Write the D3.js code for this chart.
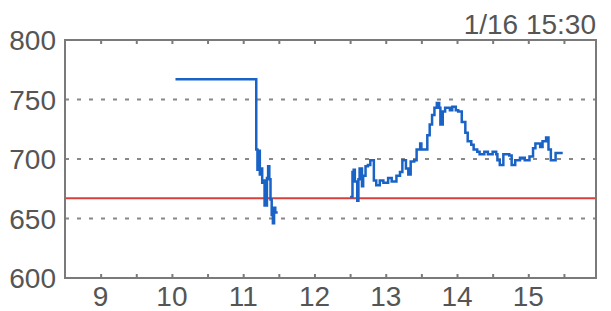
<!DOCTYPE html>
<html>
<head>
<meta charset="utf-8">
<script src="https://cdn.jsdelivr.net/npm/d3@7"></script>
<style>
  html, body { margin: 0; padding: 0; background: #fff; }
  svg { display: block; }
</style>
</head>
<body>
<svg id="chart"></svg>
<script>
// morning session
const amTimes = ["10:03", "11:10", "11:11", "11:12", "11:13", "11:14", "11:15", "11:16", "11:17", "11:18",
  "11:20", "11:21", "11:22", "11:23", "11:24", "11:25", "11:26", "11:27", "11:28"];
const amValues = [767, 767, 708, 691, 707, 687, 692, 680, 682, 661,
  684, 694, 683, 666, 653, 646, 659, 655, 656];

// afternoon session
const pmTimes = ["12:30", "12:32", "12:33", "12:34", "12:36", "12:37", "12:38", "12:40", "12:41", "12:43",
  "12:45", "12:47", "12:48", "12:50", "12:52", "12:55", "12:58", "13:02", "13:05", "13:09",
  "13:12", "13:14", "13:17", "13:19", "13:21", "13:24", "13:26", "13:29", "13:30", "13:33",
  "13:35", "13:37", "13:39", "13:41", "13:43", "13:45", "13:46", "13:48", "13:50", "13:54",
  "13:56", "13:59", "14:01", "14:04", "14:07", "14:09", "14:12", "14:14", "14:17", "14:19",
  "14:23", "14:26", "14:30", "14:33", "14:34", "14:36", "14:39", "14:44", "14:46", "14:49",
  "14:53", "14:57", "15:01", "15:04", "15:06", "15:10", "15:12", "15:15", "15:17", "15:19",
  "15:21", "15:23", "15:26", "15:29"];
const pmValues = [668, 689, 691, 681, 665, 683, 692, 677, 686, 694,
  695, 699, 699, 682, 678, 682, 680, 684, 681, 686,
  689, 699, 692, 687, 698, 699, 708, 713, 708, 708,
  720, 729, 737, 743, 747, 743, 729, 740, 743, 741,
  744, 741, 740, 731, 722, 715, 712, 708, 706, 704,
  706, 704, 706, 704, 699, 695, 704, 703, 695, 699,
  701, 699, 702, 709, 713, 710, 715, 718, 708, 699,
  699, 705, 705, 705];

const refLevel = 667;
const yTicks = [600, 650, 700, 750, 800];
const xLabels = [9, 10, 11, 12, 13, 14, 15];
const xMinor = [9, 9.5, 10, 10.5, 11, 11.5, 12, 12.5, 13, 13.5, 14, 14.5, 15, 15.5];
const title = "1/16 15:30";

const width = 611;
const height = 311;
const margin = { top: 40, right: 15, bottom: 33, left: 65 };

const svg = d3.select("#chart")
  .attr("width", width)
  .attr("height", height);

const toHour = (s) => {
  const [h, m] = s.split(":").map(Number);
  return h + m / 60;
};

const x = d3.scaleLinear()
  .domain([8.5, 15.95])
  .range([margin.left, width - margin.right]);

const y = d3.scaleLinear()
  .domain([600, 800])
  .range([height - margin.bottom, margin.top]);

const font = "'Liberation Sans', Arial, sans-serif";
const textColor = "#555";
const frameColor = "#7a7a7a";

// dashed grid
svg.selectAll(".grid")
  .data(yTicks.filter((d) => d > 600 && d < 800))
  .enter()
  .append("line")
  .attr("class", "grid")
  .attr("x1", x.range()[0])
  .attr("x2", x.range()[1])
  .attr("y1", (d) => y(d))
  .attr("y2", (d) => y(d))
  .attr("stroke", "#888")
  .attr("stroke-width", 2)
  .attr("stroke-dasharray", "4,8");

// reference line
svg.append("line")
  .attr("x1", x.range()[0])
  .attr("x2", x.range()[1])
  .attr("y1", y(refLevel))
  .attr("y2", y(refLevel))
  .attr("stroke", "#d8403b")
  .attr("stroke-width", 2);

const line = d3.line()
  .x((d) => x(d[0]))
  .y((d) => y(d[1]))
  .curve(d3.curveStepAfter);

const sessions = [
  amTimes.map((t, i) => [toHour(t), amValues[i]]),
  pmTimes.map((t, i) => [toHour(t), pmValues[i]])
];

svg.selectAll(".price")
  .data(sessions)
  .enter()
  .append("path")
  .attr("class", "price")
  .attr("d", line)
  .attr("fill", "none")
  .attr("stroke", "#1a63c6")
  .attr("stroke-width", 2.5)
  .attr("stroke-linejoin", "miter");

// frame
svg.append("rect")
  .attr("x", x.range()[0])
  .attr("y", margin.top)
  .attr("width", x.range()[1] - x.range()[0])
  .attr("height", y(600) - y(800))
  .attr("fill", "none")
  .attr("stroke", frameColor)
  .attr("stroke-width", 2);

// inward ticks top and bottom
const bottomAxis = svg.append("g")
  .attr("transform", `translate(0,${y(600)})`)
  .call(d3.axisBottom(x).tickValues(xMinor).tickSizeInner(-4).tickSizeOuter(0).tickFormat(""));
const topAxis = svg.append("g")
  .attr("transform", `translate(0,${y(800)})`)
  .call(d3.axisTop(x).tickValues(xMinor).tickSizeInner(-4).tickSizeOuter(0).tickFormat(""));
[bottomAxis, topAxis].forEach((g) => {
  g.select(".domain").remove();
  g.selectAll(".tick line").attr("stroke", frameColor).attr("stroke-width", 2);
});

// x labels
svg.selectAll(".xlabel")
  .data(xLabels)
  .enter()
  .append("text")
  .attr("class", "xlabel")
  .attr("x", (d) => x(d))
  .attr("y", 306)
  .attr("text-anchor", "middle")
  .attr("font-family", font)
  .attr("font-size", "28px")
  .attr("fill", textColor)
  .text((d) => d);

// y labels
svg.selectAll(".ylabel")
  .data(yTicks)
  .enter()
  .append("text")
  .attr("class", "ylabel")
  .attr("x", 56)
  .attr("y", (d) => y(d))
  .attr("dy", "0.36em")
  .attr("text-anchor", "end")
  .attr("font-family", font)
  .attr("font-size", "28px")
  .attr("fill", textColor)
  .text((d) => d);

svg.append("text")
  .attr("x", 596)
  .attr("y", 34)
  .attr("text-anchor", "end")
  .attr("font-family", font)
  .attr("font-size", "28px")
  .attr("fill", textColor)
  .text(title);
</script>
</body>
</html>
